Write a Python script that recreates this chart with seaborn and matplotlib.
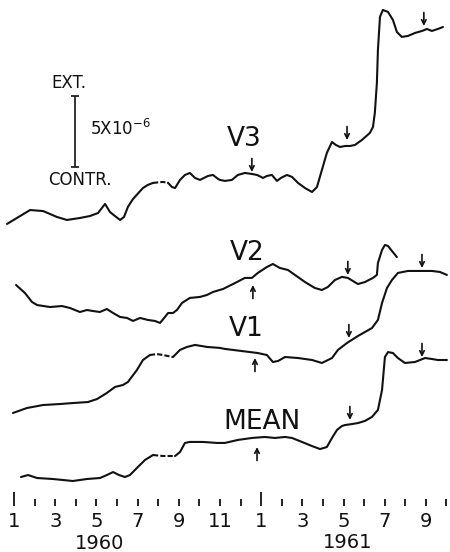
import matplotlib
matplotlib.use('Agg')
import matplotlib.pyplot as plt
import pandas as pd
import seaborn as sns

# ==========================================
# DATA
# month index: 1 = Jan 1960, 13 = Jan 1961
# strain in units of 1e-6, curves stacked with arbitrary offsets
# ==========================================
v3_month = [0.66, 1.78, 2.41, 3.09, 3.57, 4.20, 4.69, 5.08, 5.42, 5.66, 5.90, 6.15, 6.34,
            6.53, 6.78, 7.26, 7.50, 7.75, 8.23, 8.48, 8.67, 8.82, 9.06, 9.30, 9.54, 9.79,
            10.03, 10.42, 10.66, 10.91, 11.00, 11.24, 11.58, 11.87, 12.21, 12.55, 12.80,
            13.09, 13.28, 13.52, 13.77, 13.96, 14.25, 14.50, 14.79, 15.13, 15.47, 15.71,
            15.95, 16.19, 16.44, 16.63, 16.83, 17.07, 17.31, 17.55, 17.89, 18.28, 18.43,
            18.52, 18.62, 18.67, 18.77, 18.91, 19.16, 19.40, 19.59, 19.83, 20.13, 20.47,
            20.81, 21.05, 21.29, 21.58, 21.83]
v3_strain = [23.10, 24.08, 24.01, 23.59, 23.38, 23.52, 23.66, 23.87, 24.51, 23.94, 23.66,
             23.38, 23.59, 24.30, 24.86, 25.63, 25.85, 25.99, 26.06, 25.99, 25.70, 25.63,
             26.20, 26.55, 26.69, 26.34, 26.20, 26.48, 26.55, 26.27, 26.20, 26.13, 26.20,
             26.55, 26.69, 26.62, 26.55, 26.34, 26.48, 26.55, 26.13, 26.34, 26.55, 26.41,
             25.99, 25.63, 25.35, 25.70, 26.90, 28.10, 28.87, 28.66, 28.52, 28.59, 28.59,
             28.66, 29.01, 29.51, 29.93, 30.92, 33.03, 35.35, 37.68, 38.17, 38.03, 37.46,
             36.62, 36.27, 36.34, 36.55, 36.69, 36.83, 36.69, 36.83, 36.97]

v2_month = [1.10, 1.53, 1.87, 2.12, 2.75, 3.33, 3.72, 4.20, 4.54, 4.83, 5.17, 5.51, 5.81,
            6.15, 6.49, 6.78, 7.12, 7.50, 7.84, 8.09, 8.33, 8.48, 8.72, 8.91, 9.16, 9.54,
            10.03, 10.37, 10.66, 11.15, 11.73, 12.21, 12.55, 12.84, 13.28, 13.57, 13.91,
            14.30, 14.64, 15.13, 15.61, 15.95, 16.24, 16.58, 16.92, 17.21, 17.46, 17.70,
            18.04, 18.43, 18.62, 18.67, 18.87, 19.01, 19.16, 19.35, 19.59]
v2_strain = [18.80, 18.24, 17.61, 17.39, 17.25, 17.32, 17.18, 16.90, 17.04, 16.97, 16.90,
             17.11, 16.83, 16.55, 16.48, 16.27, 16.48, 16.34, 16.27, 16.13, 16.55, 16.83,
             16.83, 17.04, 17.54, 17.89, 17.96, 18.10, 18.31, 18.52, 18.94, 19.30, 19.30,
             19.65, 20.07, 20.28, 20.00, 19.86, 19.51, 19.01, 18.59, 18.45, 18.66, 19.15,
             19.37, 19.30, 19.08, 18.87, 19.01, 19.30, 19.51, 20.35, 21.27, 21.62, 21.55,
             21.20, 20.77]

v1_month = [0.95, 1.63, 2.41, 3.23, 3.86, 4.59, 5.03, 5.51, 5.90, 6.29, 6.53, 6.97, 7.26,
            7.60, 7.94, 8.23, 8.72, 9.06, 9.40, 9.79, 10.37, 11.00, 11.24, 12.07, 12.84,
            13.28, 13.57, 13.82, 14.16, 14.79, 15.47, 15.95, 16.44, 16.73, 17.17, 17.70,
            18.38, 18.67, 18.87, 19.11, 19.35, 19.64, 20.13, 20.61, 21.29, 21.68, 22.02]
v1_strain = [9.79, 10.14, 10.35, 10.42, 10.49, 10.56, 10.77, 11.20, 11.62, 11.76, 11.97,
             12.82, 13.52, 13.87, 13.94, 13.87, 13.73, 14.23, 14.44, 14.58, 14.44, 14.37,
             14.30, 14.15, 14.01, 13.87, 13.38, 13.45, 13.73, 13.66, 13.52, 13.31, 13.66,
             14.23, 14.72, 15.21, 15.77, 16.34, 17.54, 18.59, 19.15, 19.65, 19.79, 19.79,
             19.79, 19.72, 19.51]

mean_month = [1.34, 1.68, 2.12, 2.89, 3.86, 4.54, 5.17, 5.51, 5.81, 6.10, 6.39, 6.63, 6.97,
              7.36, 7.75, 8.23, 8.82, 9.06, 9.30, 9.54, 10.17, 10.85, 11.24, 11.87, 12.55,
              13.18, 13.67, 14.16, 14.50, 14.98, 15.47, 15.86, 16.19, 16.44, 16.68, 16.92,
              17.07, 17.41, 17.70, 18.04, 18.38, 18.67, 18.87, 19.01, 19.16, 19.40, 19.64,
              19.98, 20.47, 20.96, 21.29, 21.58, 22.02]
mean_strain = [5.28, 5.42, 5.21, 5.14, 5.00, 5.14, 5.21, 5.42, 5.63, 5.42, 5.28, 5.42, 5.92,
               6.48, 6.83, 6.76, 6.76, 7.04, 7.68, 7.75, 7.75, 7.68, 7.68, 7.89, 8.03,
               8.10, 8.03, 8.10, 8.03, 7.75, 7.46, 7.25, 7.39, 8.03, 8.59, 8.87,
               8.94, 9.01, 9.08, 9.23, 9.51, 10.00, 11.41, 13.73, 14.08, 14.01, 13.66,
               13.31, 13.38, 13.66, 13.59, 13.52, 13.52]

curve_names = ['V3', 'V2', 'V1', 'MEAN']
curve_months = [v3_month, v2_month, v1_month, mean_month]
curve_values = [v3_strain, v2_strain, v1_strain, mean_strain]
# stretch of each record drawn broken (missing readings)
gap_start = [7.75, None, 7.60, 7.75]
gap_end = [8.48, None, 8.72, 8.82]

label_month = [12.17, 12.31, 12.26, 13.04]
label_value = [29.08, 21.06, 15.70, 9.15]

# arrows: month, value at tip, +1 = pointing down onto curve, -1 = pointing up
arrow_month = [12.55, 17.17, 20.90, 12.60, 17.21, 12.70, 17.26, 20.81, 12.80, 17.31, 20.81]
arrow_tip = [26.76, 29.01, 37.04, 18.80, 19.51, 13.66, 15.07, 20.00, 7.39, 9.30, 13.73]
arrow_dir = [1, 1, 1, -1, 1, -1, 1, 1, -1, 1, 1]

months = list(range(1, 23))
year_names = ['1960', '1961']
year_month = [5.17, 17.21]
year_value = [0.62, 0.70]

scale_month = 3.96
scale_low = 27.11
scale_size = 5.0

# ==========================================
# PLOT
# ==========================================
sns.set_theme(style='white')
plt.rcParams['font.family'] = ['DejaVu Sans']

fig = plt.figure(figsize=(4.5, 5.52), dpi=100)
ax = fig.add_axes([0, 0, 1, 1])
ax.set_xlim(0.32, 22.17)
ax.set_ylim(0, 38.87)
ax.axis('off')

ink = '#111111'
for name, mx, vals, g0, g1 in zip(curve_names, curve_months, curve_values, gap_start, gap_end):
    df = pd.DataFrame({'month': mx, 'strain': vals})
    if g0 is None:
        sns.lineplot(data=df, x='month', y='strain', ax=ax, color=ink, lw=1.5,
                     sort=False, estimator=None)
        continue
    before = df[df['month'] <= g0]
    gap = df[(df['month'] >= g0) & (df['month'] <= g1)]
    after = df[df['month'] >= g1]
    for part in (before, after):
        sns.lineplot(data=part, x='month', y='strain', ax=ax, color=ink, lw=1.5,
                     sort=False, estimator=None)
    sns.lineplot(data=gap, x='month', y='strain', ax=ax, color=ink, lw=1.5,
                 sort=False, estimator=None, dashes=False, linestyle=(0, (2.5, 1)))

for name, mx, vy in zip(curve_names, label_month, label_value):
    ax.text(mx, vy, name, ha='center', va='center', fontsize=19, color=ink)

for mx, tip, d in zip(arrow_month, arrow_tip, arrow_dir):
    ax.annotate('', xy=(mx, tip), xytext=(mx, tip + 0.95 * d),
                arrowprops=dict(arrowstyle='->', lw=1.2, color=ink,
                                shrinkA=0, shrinkB=0, mutation_scale=8))

# scale bar
ax.errorbar([scale_month], [scale_low + scale_size / 2], yerr=[scale_size / 2],
            color=ink, lw=1.2, capsize=3, capthick=1.2)
ax.text(scale_month - 0.3, scale_low + scale_size + 0.95, 'EXT.', ha='center', va='center',
        fontsize=12, color=ink)
ax.text(scale_month + 0.25, scale_low - 0.9, 'CONTR.', ha='center', va='center',
        fontsize=12, color=ink)
ax.text(scale_month + 0.75, scale_low + scale_size / 2 + 0.2, r'5X10$^{-6}$', ha='left',
        va='center', fontsize=12, color=ink)

# time axis along the bottom
ax_t = fig.add_axes([0, 46 / 552, 1, 0.0005], sharex=ax)
ax_t.patch.set_alpha(0)
for sp in ax_t.spines.values():
    sp.set_visible(False)
ax_t.set_yticks([])
ax_t.set_xticks(months)
ax_t.set_xticklabels([str((m - 1) % 12 + 1) if m % 2 == 1 else '' for m in months])
ax_t.tick_params(axis='x', direction='in', length=4.7, width=1.3, pad=4,
                 labelsize=14, colors=ink, bottom=True)
for tk, m in zip(ax_t.xaxis.get_major_ticks(), months):
    if (m - 1) % 12 == 0:
        tk.tick1line.set_markersize(10)
ax_t.set_xlim(0.32, 22.17)

for yr, mx, vy in zip(year_names, year_month, year_value):
    ax.text(mx, vy, yr, ha='center', va='center', fontsize=14, color=ink)

fig.savefig('out.png', dpi=100)
